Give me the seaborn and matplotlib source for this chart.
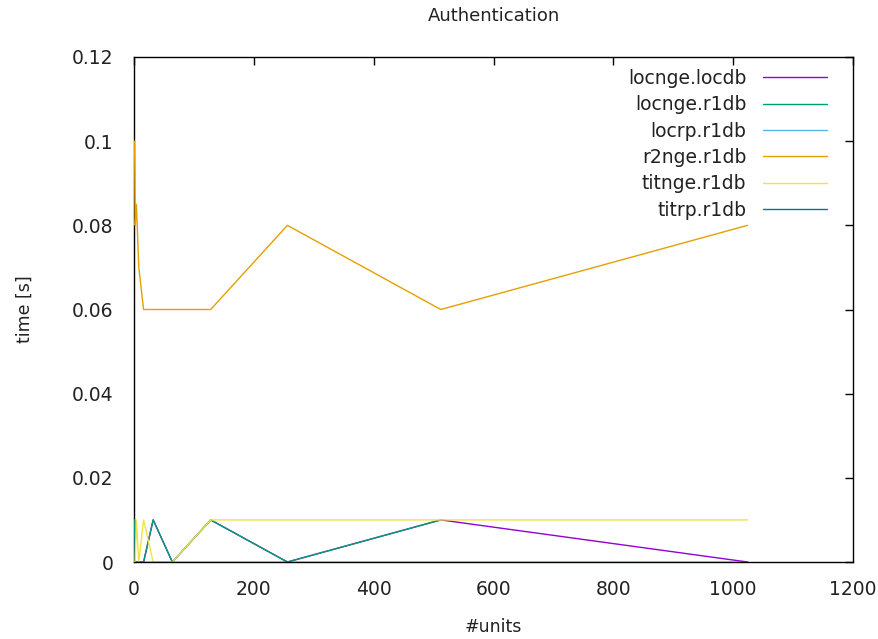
import matplotlib
matplotlib.use("Agg")
import matplotlib.pyplot as plt
import numpy as np
import pandas as pd
import seaborn as sns

# number of units per run
units = [1, 2, 4, 8, 16, 32, 64, 128, 256, 512, 1024]

# authentication time in seconds for each configuration (nan = no measurement)
locnge_locdb = [0.01, 0.0, 0.0, 0.0, 0.0, 0.01, 0.0, 0.01, 0.0, 0.01, 0.0]
locnge_r1db = [0.01, 0.0, 0.0, 0.0, 0.0, 0.01, 0.0, 0.01, 0.0, 0.01, np.nan]
locrp_r1db = [0.0, 0.0, 0.0, 0.0, 0.0, 0.0, 0.0, 0.0, 0.0, 0.0, 0.0]
r2nge_r1db = [0.10, 0.08, 0.085, 0.07, 0.06, 0.06, 0.06, 0.06, 0.08, 0.06, 0.08]
titnge_r1db = [0.0, 0.0, 0.01, 0.0, 0.01, 0.0, 0.0, 0.01, 0.01, 0.01, 0.01]
titrp_r1db = [0.0, 0.0, 0.0, 0.0, 0.0, 0.0, 0.0, 0.0, 0.0, 0.0, 0.0]

series_names = ["locnge.locdb", "locnge.r1db", "locrp.r1db",
                "r2nge.r1db", "titnge.r1db", "titrp.r1db"]
series_values = [locnge_locdb, locnge_r1db, locrp_r1db,
                 r2nge_r1db, titnge_r1db, titrp_r1db]
colors = ["#9400d3", "#009e73", "#56b4e9", "#e69f00", "#f0e442", "#0072b2"]

x_ticks = [0, 200, 400, 600, 800, 1000, 1200]
y_ticks = [0, 0.02, 0.04, 0.06, 0.08, 0.1, 0.12]
y_tick_labels = ["0", "0.02", "0.04", "0.06", "0.08", "0.1", "0.12"]

df = pd.DataFrame({
    "units": np.tile(units, len(series_names)),
    "time": np.concatenate(series_values),
    "config": np.repeat(series_names, len(units)),
})

sns.set_style("white")
plt.rcParams["font.family"] = ["DejaVu Sans"]

fig = plt.figure(figsize=(8.79, 6.39), dpi=100)
ax = fig.add_axes([134 / 879, 1 - 562 / 639, (853 - 134) / 879, (562 - 57) / 639])

sns.lineplot(data=df, x="units", y="time", hue="config", hue_order=series_names,
             palette=colors, sort=False, estimator=None, linewidth=1.0,
             legend=False, ax=ax)

ax.set_xlim(0, 1200)
ax.set_ylim(0, 0.12)
ax.set_xticks(x_ticks)
ax.set_xticklabels([str(t) for t in x_ticks])
ax.set_yticks(y_ticks)
ax.set_yticklabels(y_tick_labels)
ax.tick_params(direction="in", length=6, width=1, color="black",
               top=True, right=True, labelsize=13.5, labelcolor="#222222")
ax.tick_params(axis="y", pad=15)
ax.tick_params(axis="x", pad=13)
for name, sp in ax.spines.items():
    sp.set_color("black")
    sp.set_linewidth(1.0)
    # zero-valued series sit under the bottom border; the left border stays behind the curves
    sp.set_zorder(1.5 if name == "left" else 10)

ax.set_title("Authentication", fontsize=13, pad=26, color="#222222")
ax.set_xlabel("#units", fontsize=12.5, labelpad=14, color="#222222")
ax.set_ylabel("time [s]", fontsize=12.5, labelpad=27, color="#222222")

handles = ax.get_lines()[:len(series_names)]
leg = ax.legend(handles, series_names, loc="upper right",
                bbox_to_anchor=((827 - 134) / 719, 1 - 12 / 505),
                frameon=False, markerfirst=False, fontsize=13.5,
                handlelength=3.4, handletextpad=0.9, labelspacing=0.39,
                borderaxespad=0, borderpad=0)
for col in leg._legend_handle_box.get_children():
    col.align = "right"
for t in leg.get_texts():
    t.set_color("#222222")

fig.savefig("out.png", dpi=100)
